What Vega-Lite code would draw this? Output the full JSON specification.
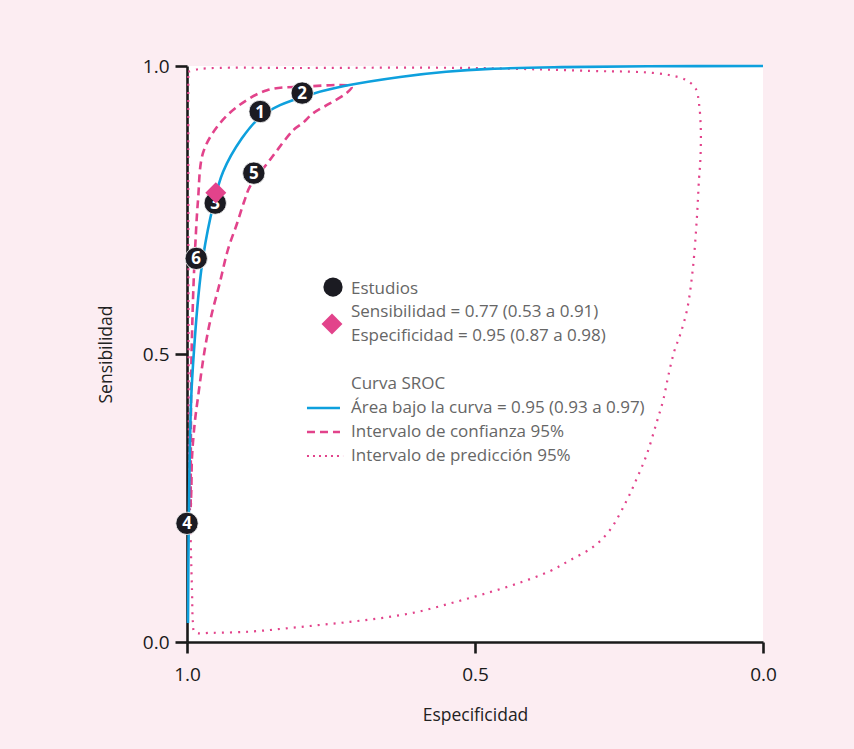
{
  "$schema": "https://vega.github.io/schema/vega-lite/v6.json",
  "width": 576,
  "height": 576,
  "autosize": {"type": "none"},
  "padding": {"left": 187, "top": 66, "right": 91, "bottom": 107},
  "background": "#fcedf2",
  "config": {
    "view": {"fill": "white", "stroke": null},
    "axis": {
      "domainColor": "#1a1a1a", "domainWidth": 2.6, "tickColor": "#1a1a1a", "tickWidth": 2.6,
      "labelFont": "Open Sans", "labelFontSize": 19, "labelColor": "#1a1a1a", "labelFlush": false,
      "titleFont": "Open Sans", "titleFontSize": 17.5, "titleFontWeight": "normal", "titleColor": "#222222",
      "grid": false
    }
  },
  "datasets": {
    "pred": [
      {"i":0,"spec":0.9977,"sens":0.990},{"i":1,"spec":0.977,"sens":0.995},{"i":2,"spec":0.8,"sens":0.9965},{"i":3,"spec":0.5,"sens":0.9965},
      {"i":4,"spec":0.28,"sens":0.991},{"i":5,"spec":0.227,"sens":0.990},{"i":6,"spec":0.191,"sens":0.988},{"i":7,"spec":0.161,"sens":0.984},
      {"i":8,"spec":0.134,"sens":0.976},{"i":9,"spec":0.117,"sens":0.961},{"i":10,"spec":0.111,"sens":0.934},{"i":11,"spec":0.108,"sens":0.890},
      {"i":12,"spec":0.108,"sens":0.860},{"i":13,"spec":0.109,"sens":0.832},{"i":14,"spec":0.111,"sens":0.805},{"i":15,"spec":0.115,"sens":0.733},
      {"i":16,"spec":0.122,"sens":0.646},{"i":17,"spec":0.132,"sens":0.576},{"i":18,"spec":0.144,"sens":0.533},{"i":19,"spec":0.154,"sens":0.505},
      {"i":20,"spec":0.164,"sens":0.464},{"i":21,"spec":0.173,"sens":0.421},{"i":22,"spec":0.185,"sens":0.380},{"i":23,"spec":0.202,"sens":0.325},
      {"i":24,"spec":0.219,"sens":0.284},{"i":25,"spec":0.237,"sens":0.245},{"i":26,"spec":0.266,"sens":0.194},{"i":27,"spec":0.295,"sens":0.165},
      {"i":28,"spec":0.335,"sens":0.142},{"i":29,"spec":0.370,"sens":0.123},{"i":30,"spec":0.428,"sens":0.101},{"i":31,"spec":0.486,"sens":0.083},
      {"i":32,"spec":0.543,"sens":0.067},{"i":33,"spec":0.601,"sens":0.052},{"i":34,"spec":0.660,"sens":0.042},{"i":35,"spec":0.717,"sens":0.035},
      {"i":36,"spec":0.775,"sens":0.029},{"i":37,"spec":0.834,"sens":0.023},{"i":38,"spec":0.891,"sens":0.018},{"i":39,"spec":0.957,"sens":0.016},
      {"i":40,"spec":0.9866,"sens":0.017},{"i":41,"spec":0.9896,"sens":0.033},{"i":42,"spec":0.9913,"sens":0.090},{"i":43,"spec":0.9936,"sens":0.177},
      {"i":44,"spec":0.9965,"sens":0.333},{"i":45,"spec":0.9974,"sens":0.594},{"i":46,"spec":0.9977,"sens":0.854},{"i":47,"spec":0.9977,"sens":0.990}
    ],
    "conf": [
      {"i":0,"spec":0.9936,"sens":0.234},{"i":1,"spec":0.993,"sens":0.420},{"i":2,"spec":0.9925,"sens":0.477},{"i":3,"spec":0.9896,"sens":0.594},
      {"i":4,"spec":0.9866,"sens":0.668},{"i":5,"spec":0.9809,"sens":0.767},{"i":6,"spec":0.9722,"sens":0.849},{"i":7,"spec":0.948,"sens":0.894},
      {"i":8,"spec":0.9132,"sens":0.929},{"i":9,"spec":0.861,"sens":0.958},{"i":10,"spec":0.799,"sens":0.964},{"i":11,"spec":0.714,"sens":0.964},
      {"i":12,"spec":0.723,"sens":0.953},{"i":13,"spec":0.752,"sens":0.935},{"i":14,"spec":0.781,"sens":0.918},{"i":15,"spec":0.799,"sens":0.901},
      {"i":16,"spec":0.815,"sens":0.889},{"i":17,"spec":0.856,"sens":0.837},{"i":18,"spec":0.891,"sens":0.790},{"i":19,"spec":0.900,"sens":0.767},
      {"i":20,"spec":0.913,"sens":0.727},{"i":21,"spec":0.929,"sens":0.681},{"i":22,"spec":0.9432,"sens":0.623},{"i":23,"spec":0.9583,"sens":0.564},
      {"i":24,"spec":0.9693,"sens":0.507},{"i":25,"spec":0.9809,"sens":0.425},{"i":26,"spec":0.9866,"sens":0.380},{"i":27,"spec":0.9913,"sens":0.321},
      {"i":28,"spec":0.9925,"sens":0.264},{"i":29,"spec":0.9936,"sens":0.234}
    ],
    "sroc": [
      {"i":0,"spec":0.9983,"sens":0.033},{"i":1,"spec":0.997,"sens":0.207},{"i":2,"spec":0.9953,"sens":0.321},{"i":3,"spec":0.9925,"sens":0.429},
      {"i":4,"spec":0.9878,"sens":0.507},{"i":5,"spec":0.9809,"sens":0.594},{"i":6,"spec":0.9722,"sens":0.668},{"i":7,"spec":0.9549,"sens":0.756},
      {"i":8,"spec":0.9375,"sens":0.816},{"i":9,"spec":0.905,"sens":0.874},{"i":10,"spec":0.8733,"sens":0.911},{"i":11,"spec":0.8385,"sens":0.932},
      {"i":12,"spec":0.781,"sens":0.952},{"i":13,"spec":0.723,"sens":0.966},{"i":14,"spec":0.63,"sens":0.981},{"i":15,"spec":0.55,"sens":0.99},
      {"i":16,"spec":0.474,"sens":0.995},{"i":17,"spec":0.35,"sens":0.998},{"i":18,"spec":0.2,"sens":0.9995},{"i":19,"spec":0.0,"sens":1.0}
    ],
    "studies": [
      {"id":"1","spec":0.873,"sens":0.921},{"id":"2","spec":0.800,"sens":0.953},{"id":"3","spec":0.951,"sens":0.762},
      {"id":"4","spec":1.0,"sens":0.206},{"id":"5","spec":0.884,"sens":0.814},{"id":"6","spec":0.984,"sens":0.666}
    ],
    "summary": [{"spec":0.950,"sens":0.78}],
    "legtext": [
      {"spec":0.7153,"sens":0.6128,"label":"Estudios"},
      {"spec":0.7153,"sens":0.5729,"label":"Sensibilidad = 0.77 (0.53 a 0.91)"},
      {"spec":0.7153,"sens":0.5313,"label":"Especificidad = 0.95 (0.87 a 0.98)"},
      {"spec":0.7153,"sens":0.4479,"label":"Curva SROC"},
      {"spec":0.7153,"sens":0.4063,"label":"Área bajo la curva = 0.95 (0.93 a 0.97)"},
      {"spec":0.7153,"sens":0.3646,"label":"Intervalo de confianza 95%"},
      {"spec":0.7153,"sens":0.3229,"label":"Intervalo de predicción 95%"}
    ],
    "legcircle": [{"spec":0.7465,"sens":0.6163}],
    "legdiamond": [{"spec":0.7483,"sens":0.5521}],
    "legsroc": [{"spec":0.7917,"spec2":0.7344,"sens":0.4063}],
    "legconf": [{"spec":0.7917,"spec2":0.7344,"sens":0.3646}],
    "legpred": [{"spec":0.7917,"spec2":0.729,"sens":0.3229}]
  },
  "encoding": {
    "x": {"field": "spec", "type": "quantitative",
      "scale": {"domain": [0, 1], "reverse": true, "nice": false},
      "axis": {"values": [0, 0.5, 1], "format": ".1f", "tickSize": 11, "labelPadding": 12, "title": "Especificidad", "titlePadding": 22}},
    "y": {"field": "sens", "type": "quantitative",
      "scale": {"domain": [0, 1], "nice": false},
      "axis": {"values": [0, 0.5, 1], "format": ".1f", "tickSize": 12, "labelPadding": 6, "title": "Sensibilidad", "titlePadding": 27}}
  },
  "layer": [
    {"data": {"name": "pred"}, "mark": {"type": "line", "color": "#e2438b", "strokeWidth": 2.2, "strokeDash": [2, 6], "interpolate": "catmull-rom"},
     "encoding": {"order": {"field": "i", "type": "quantitative"}}},
    {"data": {"name": "conf"}, "mark": {"type": "line", "color": "#e2438b", "strokeWidth": 2.6, "strokeDash": [8, 5], "interpolate": "catmull-rom"},
     "encoding": {"order": {"field": "i", "type": "quantitative"}}},
    {"data": {"name": "sroc"}, "mark": {"type": "line", "color": "#0ea0dd", "strokeWidth": 2.6, "interpolate": "catmull-rom"},
     "encoding": {"order": {"field": "i", "type": "quantitative"}}},
    {"data": {"name": "studies"}, "mark": {"type": "point", "shape": "circle", "filled": true, "color": "#1b1b22", "opacity": 1, "size": 500, "stroke": "white", "strokeWidth": 0.8}},
    {"data": {"name": "studies"}, "mark": {"type": "text", "color": "white", "font": "Open Sans", "fontWeight": "bold", "fontSize": 17, "baseline": "middle", "dy": 1},
     "encoding": {"text": {"field": "id"}}},
    {"data": {"name": "summary"}, "mark": {"type": "point", "shape": "diamond", "filled": true, "color": "#e2438b", "opacity": 1, "size": 440}},
    {"data": {"name": "legcircle"}, "mark": {"type": "point", "shape": "circle", "filled": true, "color": "#1b1b22", "opacity": 1, "size": 370}},
    {"data": {"name": "legdiamond"}, "mark": {"type": "point", "shape": "diamond", "filled": true, "color": "#e2438b", "opacity": 1, "size": 440}},
    {"data": {"name": "legsroc"}, "mark": {"type": "rule", "color": "#0ea0dd", "strokeWidth": 2.6},
     "encoding": {"x2": {"field": "spec2"}}},
    {"data": {"name": "legconf"}, "mark": {"type": "rule", "color": "#e2438b", "strokeWidth": 2.6, "strokeDash": [8, 5]},
     "encoding": {"x2": {"field": "spec2"}}},
    {"data": {"name": "legpred"}, "mark": {"type": "rule", "color": "#e2438b", "strokeWidth": 2.2, "strokeDash": [2, 4]},
     "encoding": {"x2": {"field": "spec2"}}},
    {"data": {"name": "legtext"}, "mark": {"type": "text", "align": "left", "baseline": "middle", "font": "Open Sans", "fontSize": 17, "color": "#666666"},
     "encoding": {"text": {"field": "label"}}}
  ]
}
